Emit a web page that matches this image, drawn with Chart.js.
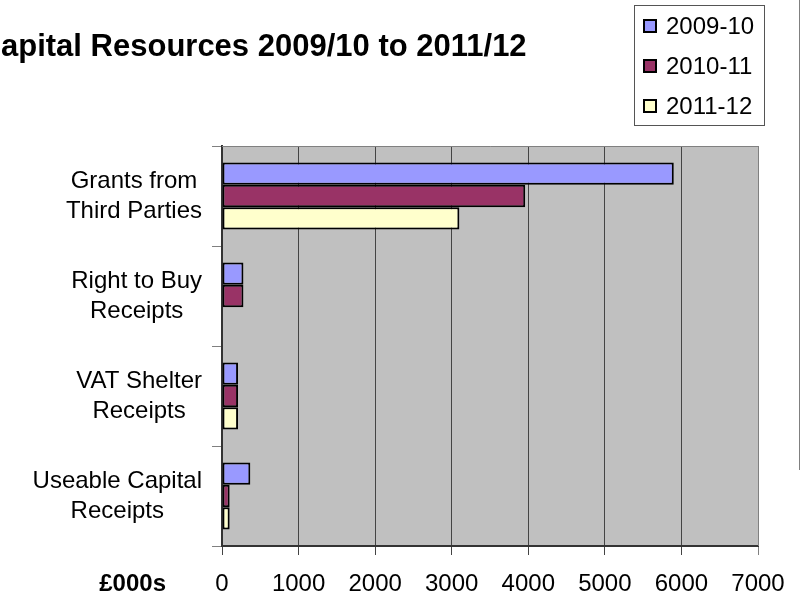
<!DOCTYPE html>
<html>
<head>
<meta charset="utf-8">
<script src="https://cdn.jsdelivr.net/npm/chart.js@4/dist/chart.umd.min.js"></script>
<style>
  html,body{margin:0;padding:0;background:#fff;}
  canvas{display:block;}
</style>
</head>
<body>
<canvas id="chart" width="800" height="595"></canvas>
<script>
// data (£000s)
const titleText = "Capital Resources 2009/10 to 2011/12";
const unitLabel = "£000s";
const categories = [
  ["Grants from", "Third Parties"],
  ["Right to Buy", "Receipts"],
  ["VAT Shelter", "Receipts"],
  ["Useable Capital", "Receipts"]
];
const seriesNames = ["2009-10", "2010-11", "2011-12"];
const values0910 = [5900, 280, 210, 370];
const values1011 = [3960, 280, 210, 100];
const values1112 = [3100, null, 210, 100];
const seriesColors = ["#9999ff", "#993366", "#ffffcc"];
const xMin = 0, xMax = 7000, xStep = 1000;

const FONT = "'Liberation Sans', Arial, sans-serif";

const extras = {
  id: "extras",
  beforeDraw(chart){
    const {ctx, chartArea:a} = chart;
    ctx.save();
    ctx.fillStyle = "#c0c0c0";
    ctx.fillRect(a.left, a.top, a.right - a.left, a.bottom - a.top);
    ctx.restore();
  },
  afterDraw(chart){
    const {ctx, chartArea:a} = chart;
    const y = chart.scales.y, x = chart.scales.x;
    ctx.save();

    // top / right border of plot
    ctx.strokeStyle = "#808080";
    ctx.lineWidth = 1;
    ctx.beginPath();
    ctx.moveTo(a.left, a.top + 0.5);
    ctx.lineTo(a.right + 0.5, a.top + 0.5);
    ctx.lineTo(a.right + 0.5, a.bottom);
    ctx.stroke();

    // title, first letter falls off the left edge
    ctx.fillStyle = "#000";
    ctx.font = "bold 31px " + FONT;
    ctx.textBaseline = "alphabetic";
    ctx.textAlign = "left";
    const cw = ctx.measureText(titleText[0]).width;
    ctx.fillText(titleText, -cw + 1, 56);

    // category labels: lines centred on each other, block right aligned
    ctx.font = "24px " + FONT;
    ctx.textAlign = "center";
    ctx.textBaseline = "middle";
    const lh = 30;
    categories.forEach((lines, i) => {
      const cy = y.getPixelForValue(i);
      const w = Math.max(...lines.map(l => ctx.measureText(l).width));
      const cx = a.left - 20 - w / 2;
      const y0 = cy - (lines.length - 1) * lh / 2;
      lines.forEach((l, j) => ctx.fillText(l, cx, y0 + j * lh));
    });

    // unit label beside x ticks
    ctx.font = "bold 24px " + FONT;
    ctx.textAlign = "right";
    ctx.fillText(unitLabel, 166, x.top + 9 + 15 + 14.4);

    // legend
    const bx = 634.5, by = 5.5, bw = 130, bh = 120;
    ctx.fillStyle = "#fff";
    ctx.fillRect(bx, by, bw, bh);
    ctx.strokeStyle = "#555";
    ctx.lineWidth = 1;
    ctx.strokeRect(bx, by, bw, bh);
    ctx.font = "24px " + FONT;
    ctx.textAlign = "left";
    chart.data.datasets.forEach((ds, i) => {
      const cy = 26 + i * 40;
      ctx.fillStyle = ds.backgroundColor;
      ctx.fillRect(643, cy - 7, 14, 14);
      ctx.strokeStyle = "#000";
      ctx.lineWidth = 2;
      ctx.strokeRect(644, cy - 6, 12, 12);
      ctx.fillStyle = "#000";
      ctx.fillText(ds.label, 666, cy + 1);
    });

    // frame line at right edge
    ctx.strokeStyle = "#808080";
    ctx.lineWidth = 1;
    ctx.beginPath();
    ctx.moveTo(799.5, 0);
    ctx.lineTo(799.5, 470);
    ctx.stroke();
    ctx.restore();
  }
};

const seriesValues = [values0910, values1011, values1112];

new Chart(document.getElementById("chart"), {
  type: "bar",
  data: {
    labels: categories,
    datasets: seriesNames.map((name, i) => ({
      label: name,
      data: seriesValues[i],
      backgroundColor: seriesColors[i],
      borderColor: "#000",
      borderWidth: 2,
      borderSkipped: false,
      categoryPercentage: 0.67,
      barPercentage: 1.0
    }))
  },
  options: {
    indexAxis: "y",
    responsive: false,
    animation: false,
    layout: { padding: { top: 146, right: 42, left: 0, bottom: 0 } },
    plugins: { legend: { display: false }, title: { display: false }, tooltip: { enabled: false } },
    scales: {
      x: {
        min: xMin, max: xMax,
        afterFit(s){ s.height = 49; },
        ticks: {
          stepSize: xStep, color: "#000", padding: 15,
          font: { family: FONT, size: 24 },
          callback: v => String(v)
        },
        grid: {
          color: ctx => ctx.index === (xMax - xMin) / xStep ? "#808080" : "#444",
          lineWidth: 1, tickLength: 9, drawTicks: true
        },
        border: { color: "#333", width: 2 }
      },
      y: {
        afterFit(s){ s.width = 222; },
        ticks: { display: false },
        grid: { drawOnChartArea: false, color: "#808080", tickLength: 10, offset: true },
        border: { color: "#333", width: 2 }
      }
    }
  },
  plugins: [extras]
});
</script>
</body>
</html>
